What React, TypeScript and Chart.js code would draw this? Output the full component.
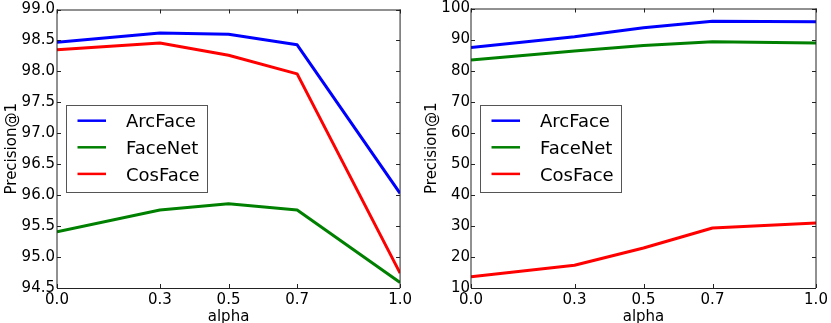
import React, { useEffect, useRef } from 'react';
import { Chart, registerables } from 'chart.js';

Chart.register(...registerables);

// ---- data ----
const alphaValues = [0.0, 0.3, 0.5, 0.7, 1.0];
const xTickValues = [0.0, 0.3, 0.5, 0.7, 1.0];
const seriesLabels = ['ArcFace', 'FaceNet', 'CosFace'];
const seriesColors = ['#0000ff', '#008000', '#ff0000'];

const leftArcFace = [98.47, 98.62, 98.6, 98.43, 96.03];
const leftFaceNet = [95.41, 95.76, 95.86, 95.76, 94.59];
const leftCosFace = [98.35, 98.46, 98.26, 97.96, 94.74];
const leftYTicks = [94.5, 95.0, 95.5, 96.0, 96.5, 97.0, 97.5, 98.0, 98.5, 99.0];

const rightArcFace = [87.4, 90.9, 93.8, 95.9, 95.7];
const rightFaceNet = [83.4, 86.3, 88.1, 89.3, 88.9];
const rightCosFace = [13.6, 17.3, 22.9, 29.3, 30.9];
const rightYTicks = [10, 20, 30, 40, 50, 60, 70, 80, 90, 100];

const FONT = "'DejaVu Sans', sans-serif";

const mplPlugin = {
  id: 'mplFrame',
  afterDraw(chart: any) {
    const { ctx, chartArea: a, scales } = chart;
    const opts = chart.options.plugins.mplFrame || {};
    ctx.save();
    // inward ticks
    ctx.strokeStyle = '#222';
    ctx.lineWidth = 1;
    const L = 4;
    ctx.beginPath();
    scales.x.ticks.forEach((t: any) => {
      const px = Math.round(scales.x.getPixelForValue(t.value)) + 0.5;
      ctx.moveTo(px, a.bottom);
      ctx.lineTo(px, a.bottom - L);
      ctx.moveTo(px, a.top);
      ctx.lineTo(px, a.top + L);
    });
    scales.y.ticks.forEach((t: any) => {
      const py = Math.round(scales.y.getPixelForValue(t.value)) + 0.5;
      ctx.moveTo(a.left, py);
      ctx.lineTo(a.left + L, py);
      ctx.moveTo(a.right, py);
      ctx.lineTo(a.right - L, py);
    });
    ctx.stroke();
    // frame
    ctx.beginPath();
    ctx.strokeStyle = '#222';
    ctx.moveTo(a.left, a.top + 0.5);
    ctx.lineTo(a.right, a.top + 0.5);
    ctx.moveTo(a.left, a.bottom + 0.5);
    ctx.lineTo(a.right, a.bottom + 0.5);
    ctx.moveTo(a.left, a.top);
    ctx.lineTo(a.left, a.bottom);
    ctx.moveTo(a.right, a.top);
    ctx.lineTo(a.right, a.bottom);
    ctx.stroke();

    // legend
    const bx = a.left + (opts.legendDx ?? 9);
    const by = 105;
    const bw = 141;
    const bh = 87;
    ctx.fillStyle = '#ffffff';
    ctx.fillRect(bx, by, bw, bh);
    ctx.strokeStyle = '#555';
    ctx.lineWidth = 1;
    ctx.strokeRect(Math.round(bx) + 0.5, by + 0.5, bw, bh);
    ctx.font = `18px ${FONT}`;
    ctx.textBaseline = 'alphabetic';
    ctx.textAlign = 'left';
    chart.data.datasets.forEach((ds: any, i: number) => {
      const y = by + 15.7 + i * 26.6;
      ctx.beginPath();
      ctx.strokeStyle = ds.borderColor;
      ctx.lineWidth = 2.5;
      ctx.moveTo(bx + 11.5, y);
      ctx.lineTo(bx + 40, y);
      ctx.stroke();
      ctx.fillStyle = '#000';
      ctx.fillText(ds.label, bx + 60, y + 6.6);
    });
    ctx.restore();
  },
};

function makeConfig(
  series: number[][],
  yTicks: number[],
  yDecimals: number,
  yWidth: number,
  rightPad: number,
  yTitlePad: number,
  yTickPad: number,
) {
  return {
    type: 'line' as const,
    data: {
      datasets: series.map((vals, i) => ({
        label: seriesLabels[i],
        data: vals.map((v, j) => ({ x: alphaValues[j], y: v })),
        borderColor: seriesColors[i],
        backgroundColor: seriesColors[i],
        borderWidth: 3,
        pointRadius: 0,
        tension: 0,
        fill: false,
        borderJoinStyle: 'round' as const,
      })),
    },
    options: {
      responsive: false,
      maintainAspectRatio: false,
      devicePixelRatio: 1,
      animation: false as const,
      layout: { padding: { top: 8, right: rightPad, left: 0, bottom: 0 } },
      plugins: {
        legend: { display: false },
        tooltip: { enabled: false },
        mplFrame: {},
      },
      scales: {
        x: {
          type: 'linear' as const,
          min: xTickValues[0],
          max: xTickValues[xTickValues.length - 1],
          grid: { display: false, drawTicks: false },
          border: { display: false },
          afterBuildTicks: (s: any) => {
            s.ticks = xTickValues.map((v) => ({ value: v }));
          },
          afterFit: (s: any) => {
            s.height = 35;
          },
          ticks: {
            autoSkip: false,
            maxRotation: 0,
            padding: 3,
            color: '#000',
            font: { family: FONT, size: 15 },
            callback: (v: any) => Number(v).toFixed(1),
          },
          title: {
            display: true,
            text: 'alpha',
            color: '#000',
            font: { family: FONT, size: 15, lineHeight: 1 },
            padding: { top: 0, bottom: -2 },
          },
        },
        y: {
          type: 'linear' as const,
          min: yTicks[0],
          max: yTicks[yTicks.length - 1],
          grid: { display: false, drawTicks: false },
          border: { display: false },
          afterBuildTicks: (s: any) => {
            s.ticks = yTicks.map((v) => ({ value: v }));
          },
          afterFit: (s: any) => {
            s.width = yWidth;
          },
          ticks: {
            autoSkip: false,
            padding: yTickPad,
            color: '#000',
            font: { family: FONT, size: 15, lineHeight: 1 },
            callback: (v: any) => Number(v).toFixed(yDecimals),
          },
          title: {
            display: true,
            text: 'Precision@1',
            color: '#000',
            font: { family: FONT, size: 15 },
            padding: { top: yTitlePad, bottom: 0 },
          },
        },
      },
    },
    plugins: [mplPlugin],
  };
}

function useChart(ref: React.RefObject<HTMLCanvasElement>, cfg: () => any) {
  useEffect(() => {
    if (!ref.current) return;
    const chart = new Chart(ref.current, cfg());
    return () => chart.destroy();
  }, []);
}

export default function App() {
  const leftRef = useRef<HTMLCanvasElement>(null);
  const rightRef = useRef<HTMLCanvasElement>(null);

  useChart(leftRef, () =>
    makeConfig([leftArcFace, leftFaceNet, leftCosFace], leftYTicks, 1, 57, 13, 3, 2),
  );
  useChart(rightRef, () =>
    makeConfig([rightArcFace, rightFaceNet, rightCosFace], rightYTicks, 0, 56, 15, 8, 1),
  );

  return (
    <div
      style={{
        position: 'absolute',
        left: 0,
        top: 0,
        width: 831,
        height: 323,
        background: '#fff',
        overflow: 'hidden',
      }}
    >
      <canvas
        ref={leftRef}
        width={415}
        height={323}
        style={{ position: 'absolute', left: 0, top: 0, width: 415, height: 323 }}
      />
      <canvas
        ref={rightRef}
        width={416}
        height={323}
        style={{ position: 'absolute', left: 415, top: 0, width: 416, height: 323 }}
      />
    </div>
  );
}
